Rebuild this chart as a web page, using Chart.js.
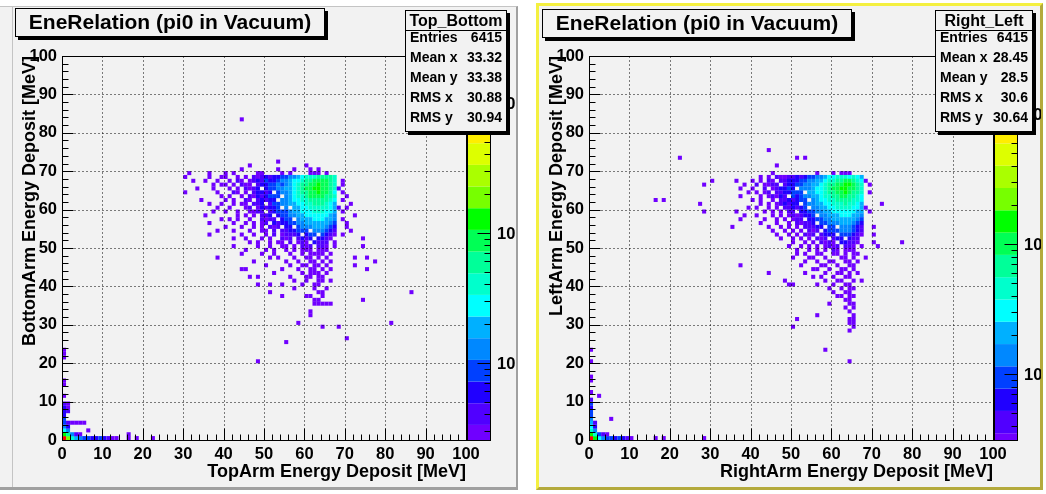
<!DOCTYPE html>
<html><head><meta charset="utf-8">
<script src="https://cdn.jsdelivr.net/npm/chart.js@4.4.1/dist/chart.umd.min.js"></script>
<style>
html,body{margin:0;padding:0;background:#fff;}
body{width:1046px;height:494px;position:relative;overflow:hidden;font-family:"Liberation Sans",Arial,sans-serif;}
.pad{position:absolute;background:#f2f2f2;box-sizing:border-box;}
#padL{left:0;top:6px;width:518px;height:484px;border-top:1px solid #c4c4c4;border-right:2px solid #a0a0a0;border-bottom:3px solid #a0a0a0;}
#padLline{position:absolute;left:12px;top:6px;width:1px;height:481px;background:#c4c4c4;}
#padR{left:536px;top:3px;width:507px;height:487px;border-left:3px solid #f4f040;border-top:3px solid #f4f040;border-right:3px solid #b4aa3c;border-bottom:3px solid #b4aa3c;}
canvas{position:absolute;top:0;}
#cL{left:0;}
#cR{left:527px;}
.box{position:absolute;background:#f2f2f2;border:1px solid #000;box-shadow:3px 3px 0 #000;box-sizing:border-box;font-weight:bold;color:#000;}
.title{font-size:21px;line-height:26px;text-align:center;white-space:nowrap;}
.hdr{position:absolute;left:0;right:0;top:0;height:19px;line-height:19px;border-bottom:1px solid #000;text-align:center;font-size:16px;white-space:nowrap;}
.row{position:absolute;left:4px;right:4px;height:16px;line-height:16px;font-size:14px;white-space:nowrap;}
.row span:last-child{position:absolute;right:0;top:0;}
</style>
</head><body>
<div id="padL" class="pad"></div><div id="padLline"></div>
<div id="padR" class="pad"></div>
<canvas id="cL" width="517" height="494"></canvas>
<canvas id="cR" width="514" height="494"></canvas>
<div class="box title" style="left:15px;top:8px;width:310px;height:29px;">EneRelation (pi0 in Vacuum)</div>
<div class="box title" style="left:542px;top:9px;width:310px;height:29px;">EneRelation (pi0 in Vacuum)</div>
<div class="box" id="statL" style="left:405px;top:10px;width:102px;height:122px;"></div>
<div class="box" id="statR" style="left:935px;top:10px;width:98px;height:122px;"></div>
<script>
// ---- colour levels (palette index 1..18, bottom to top of the colour bar)
const palette = ["#7000ff","#5000ff","#2000ff","#0040ff","#0088ff","#00b0ff","#00ffff","#00ffcc","#00ff99","#00ff55","#00ff00","#77ff00","#aaff00","#ddff00","#ffee00","#ffaa00","#ff5500","#ff0000"];
const axisTicks = [0,10,20,30,40,50,60,70,80,90,100];

// ---- Top_Bottom histogram: dense rows (y, levels from x=40; '.'=empty, 1..9,a,b = colour level)
const topBottomRowsX0 = 40;
const topBottomRows = [
 [68, "1..1. 1.212 32334 45567 88899 998"],
 [67, ".1.21 .1232 43345 56778 99aaa a98.1"],
 [66, "1.1.2 11.23 34454 56789 9aaba a98"],
 [65, ".1.1. 2123. 34455 66789 aabba a982"],
 [64, "..21. 1.233 23.45 56789 9aaba a97.1"],
 [63, ".1..1 .2132 3444. 56788 9aaaa 998"],
 [62, "1.1.. 21.23 233.5 56778 89999 987.1"],
 [61, "..1.1 1.223 .2445 56677 88999 876"],
 [60, ".1... 12.13 2334. 5.667 78888 8762. 1"],
 [59, "1..1. .1122 .2344 45667 77888 776.1"],
 [58, "...1. 1.1.2 23.34 45566 77777 765"],
 [57, ".1.1. .1..2 122.3 44.56 66777 665.1"],
 [56, "..1.. 1.1.1 2.323 34455 66666 654"],
 [55, "1...1 ..1.1 .212. 33.45 55666 543.. 1"],
 [54, "..1.. .1..1 1.2.2 23344 4.555 432"],
 [53, "....1 ..1.. 1.2.1 2223. 344.4 321.1"],
 [52, "..1.. 1...1 .1..2 12.23 23.33 21"],
 [51, "..... .1.1. .1.11 .2.12 1.322 2.1"],
 [50, "..1.. ...1. .1..1 1.1.2 12.22 1.1"],
 [49, "..... 1.... 1.1.. 1.1.1 11.11 1"],
 [48, "....1 ....1 ..1.. .1..1 .1111 .1"]
];
// single-entry bins (y, [x...])
const topBottomSparse = [
 [83,[44]],[72,[53]],[71,[46,60]],[70,[44,53,57,61,63]],
 [69,[31,36,40,42,48,49,54,56,61,62,63,65]],[68,[30,36,39]],[67,[32,35,38]],
 [66,[37,39,69]],[65,[33,37]],[64,[30,38]],[63,[39,70]],[62,[34]],[61,[36,39,71]],
 [60,[38]],[59,[37]],[58,[35,72]],[57,[39]],[56,[36,70]],[54,[38,71]],[53,[36]],[52,[74]],
 [50,[74]],[47,[38,51,53,57,60,61,63,65,72,75]],
 [46,[47,55,58,61,62,64,66,77]],[45,[50,56,59,60,62,63,65,72]],[44,[44,45,54,58,61,62,64,66,75]],
 [43,[52,59,61,62,63,65]],[42,[46,48,56,60,61,63,64]],[41,[57,60,63,64,66]],
 [40,[48,51,54,59,62,63]],[39,[57,62,65]],[38,[51,63,64,86]],[37,[54,60,61,64]],
 [36,[62,63,74]],[35,[62,63,64,65,66]],[33,[61]],[32,[61]],[30,[58,81]],[29,[64,68]],
 [26,[70]],[25,[55]],[20,[48]]
];
// bins near the origin [x, y, level]
const topBottomOrigin = [
 [0,0,18],[1,0,12],[2,0,8],[3,0,6],[4,0,5],[5,0,4],[6,0,4],[7,0,3],[8,0,3],[9,0,4],[10,0,3],[11,0,2],[12,0,1],[13,0,1],[16,0,1],[18,0,1],[22,0,1],
 [0,1,11],[1,1,9],[2,1,5],[3,1,2],[4,1,1],[16,1,1],
 [0,2,7],[1,2,5],[6,2,1],[0,3,5],[1,3,3],
 [0,4,4],[1,4,2],[2,4,1],[3,4,1],[4,4,1],[5,4,1],
 [0,5,4],[0,6,3],[0,7,3],[1,7,2],[0,8,3],[1,8,1],[0,9,2],[1,9,1],
 [0,11,1],[0,14,1],[0,15,1],[0,21,1],[0,22,1],[0,23,1]
];
const topBottomStats = [["Entries","6415"],["Mean x","33.32"],["Mean y","33.38"],["RMS x","30.88"],["RMS y","30.94"]];

// ---- Right_Left histogram
const rightLeftRowsX0 = 40;
const rightLeftRows = [
 [68, "..1.1 .2112 23234 45567 78887 876"],
 [67, "1.1.2 1.223 33445 56678 899aa 9871"],
 [66, ".2.11 22.23 34455 66789 9aabb a98.1"],
 [65, "1..2. 12334 3.555 67789 aabba a98"],
 [64, ".1.12 .2233 444.6 67789 9aaba 998.1"],
 [63, "..1.1 2132. 43455 66788 99aa9 987"],
 [62, "1.1.. 1.223 2344. 56778 89999 887"],
 [61, "..1.1 .1232 33.45 56677 88898 876.. ..1"],
 [60, ".1..1 .1.22 3234. 55667 78888 7761"],
 [59, "...1. 1.1.2 2.334 45566 77777 766.1"],
 [58, ".1... 1.1.1 21233 4.556 66777 665"],
 [57, "...1. .1.1. 122.3 34455 66666 654"],
 [56, "..1.. .1..1 .2122 3.445 55666 543"],
 [55, "....1 ..1.1 .1.22 233.4 4.555 432.. 1"],
 [54, "..... 1..1. 1.1.2 12.34 44555 432"],
 [53, "..... .1..1 .1.21 2.233 3.444 321.. 1"],
 [52, "..... ..1.. 1.1.1 .212. 233.3 22"],
 [51, "..... ..... 1..1. 1.212 1.332 21... 1"],
 [50, "..... ....1 ..1.1 .1.12 12.22 1.1"],
 [49, "..... ..... .1..1 .1.1. 21.11 1"]
];
const rightLeftSparse = [
 [75,[44]],[73,[22,51,53]],[71,[46]],[69,[45,56,60,62,63,64]],[67,[30,36]],
 [66,[28,38]],[65,[37]],[64,[39]],[63,[37]],[62,[16,18]],[61,[27]],[60,[39]],
 [59,[28,36]],[58,[38]],[57,[37]],[55,[35]],[51,[77]],[50,[71]],
 [48,[51,53,56,57,60,61,63,65,66]],[47,[50,54,55,58,62,63,65,68]],
 [46,[53,56,59,60,63,64,66]],[45,[37,52,57,58,61,64,65]],[44,[55,56,59,62,63,65]],
 [43,[44,53,58,61,62,64,66]],[42,[55,57,60,63,64]],[41,[48,58,61,62,65,67]],
 [40,[49,50,56,60,63,64]],[39,[59,62,64,65]],[38,[60,63,64]],[37,[61,62,64,65]],
 [36,[63,64]],[35,[59,64,65]],[34,[63,65]],[33,[64]],[32,[56,65]],[31,[51,64,65]],
 [30,[64,65]],[29,[50,65]],[28,[64]],[23,[58]],[20,[64]]
];
const rightLeftOrigin = [
 [0,0,18],[1,0,11],[2,0,7],[3,0,5],[4,0,4],[5,0,4],[6,0,3],[7,0,4],[8,0,3],[9,0,2],[10,0,1],[16,0,1],[18,0,1],[28,0,1],
 [0,1,11],[1,1,8],[2,1,4],[3,1,2],[4,1,1],
 [0,2,8],[1,2,5],[0,3,7],[1,3,3],[0,4,6],[1,4,2],[0,5,5],[5,5,1],
 [0,6,4],[0,7,4],[0,8,3],[0,9,4],[0,10,2],[2,11,1],[0,12,1],[0,15,1],[0,16,1],[0,20,1],[0,23,1]
];
const rightLeftStats = [["Entries","6415"],["Mean x","28.45"],["Mean y","28.5"],["RMS x","30.6"],["RMS y","30.64"]];

// ---- build bins (origin and single entries first, dense rows drawn on top)
function buildCells(rows, x0, sparse, origin) {
  const out = [];
  origin.forEach(([x, y, l]) => out.push({x: x + 0.5, y: y + 0.5, l}));
  sparse.forEach(([y, xs]) => xs.forEach(x => out.push({x: x + 0.5, y: y + 0.5, l: 1})));
  rows.forEach(([y, str]) => {
    const s = str.replace(/ /g, '');
    for (let i = 0; i < s.length; i++) {
      if (s[i] !== '.') out.push({x: x0 + i + 0.5, y: y + 0.5, l: parseInt(s[i], 36)});
    }
  });
  return out;
}

function fillStats(id, title, stats) {
  const el = document.getElementById(id);
  let html = '<div class="hdr">' + title + '</div>';
  stats.forEach(([k, v], i) => {
    html += '<div class="row" style="top:' + (17.5 + i * 20) + 'px"><span>' + k + '</span><span>' + v + '</span></div>';
  });
  el.innerHTML = html;
}
fillStats('statL', 'Top_Bottom', topBottomStats);
fillStats('statR', 'Right_Left', rightLeftStats);

const FONT = '"Liberation Sans", Arial, sans-serif';

function decoPlugin(cb) {
  return {
    id: 'rootDeco',
    afterDatasetsDraw(chart) {
      const {ctx, chartArea: a, scales: {x, y}} = chart;
      ctx.save();
      ctx.strokeStyle = '#000'; ctx.lineWidth = 1;
      const L = Math.round(a.left) + 0.5, R = Math.round(a.right) + 0.5;
      const T = Math.round(a.top) + 0.5, B = Math.round(a.bottom) + 0.5;
      // dotted grid
      ctx.setLineDash([1, 3]);
      axisTicks.forEach(v => {
        if (v === 0 || v === 100) return;
        const px = Math.round(x.getPixelForValue(v)) + 0.5;
        ctx.beginPath(); ctx.moveTo(px, T); ctx.lineTo(px, B); ctx.stroke();
        const py = Math.round(y.getPixelForValue(v)) + 0.5;
        ctx.beginPath(); ctx.moveTo(L, py); ctx.lineTo(R, py); ctx.stroke();
      });
      ctx.setLineDash([]);
      ctx.strokeRect(L, T, R - L, B - T);
      // inward ticks
      for (let v = 0; v <= 100; v += 2) {
        const major = v % 10 === 0;
        const px = Math.round(x.getPixelForValue(v)) + 0.5;
        ctx.beginPath(); ctx.moveTo(px, B); ctx.lineTo(px, B - (major ? 12 : 6)); ctx.stroke();
        const py = Math.round(y.getPixelForValue(v)) + 0.5;
        ctx.beginPath(); ctx.moveTo(L, py); ctx.lineTo(L + (major ? 11 : 6), py); ctx.stroke();
      }
      // colour bar
      const x0 = Math.round(a.right) + 1, x1 = Math.round(a.right) + 25;
      const zpix = lg => a.bottom - (lg - cb.logMin) / (cb.logMax - cb.logMin) * (a.bottom - a.top);
      for (let k = 0; k < 40; k++) {
        const lo = cb.edge0 + (k - 1) * cb.step, hi = cb.edge0 + k * cb.step;
        if (lo >= cb.logMax) break;
        const yT = Math.max(a.top, zpix(hi)), yB = Math.min(a.bottom, zpix(lo));
        ctx.fillStyle = palette[Math.min(k, palette.length - 1)];
        ctx.fillRect(x0, yT, x1 - x0, yB - yT);
      }
      ctx.strokeRect(x0 + 0.5, T, x1 - x0 - 1, B - T);
      ctx.fillStyle = '#000';
      ctx.font = 'bold 16.5px ' + FONT;
      ctx.textBaseline = 'middle'; ctx.textAlign = 'left';
      for (let d = 0; d <= 4; d++) {
        for (let m = 1; m <= 9; m++) {
          const lg = d + Math.log10(m);
          if (lg < cb.logMin || lg > cb.logMax) continue;
          const py = Math.round(zpix(lg)) + 0.5;
          ctx.beginPath(); ctx.moveTo(x1 - 0.5, py); ctx.lineTo(x1 - 0.5 - (m === 1 ? 13 : 6), py); ctx.stroke();
          if (m === 1) ctx.fillText('10', x1 + 6, py + 1);
        }
      }
      ctx.restore();
    }
  };
}

function makeChart(id, cells, xTitle, yTitle, cb, width) {
  const tickFont = {family: FONT, weight: 'bold', size: 16.5};
  const titleFont = {family: FONT, weight: 'bold', size: 18};
  return new Chart(document.getElementById(id), {
    type: 'scatter',
    data: {datasets: [{
      data: cells,
      pointStyle: 'rect',
      borderWidth: 0,
      backgroundColor: c => palette[(c.raw ? c.raw.l : 1) - 1],
      radius: c => {
        const s = c.chart.scales.x;
        return Math.abs(s.getPixelForValue(1) - s.getPixelForValue(0)) * Math.SQRT1_2;
      },
      hoverRadius: 0
    }]},
    options: {
      responsive: false, animation: false, events: [],
      layout: {padding: {left: 0, top: 56, right: width - 466, bottom: 0}},
      plugins: {legend: {display: false}, tooltip: {enabled: false}},
      scales: {
        x: {
          type: 'linear', min: 0, max: 100,
          afterFit: s => { s.height = 54; },
          afterBuildTicks: s => { s.ticks = axisTicks.map(v => ({value: v})); },
          grid: {display: false, drawTicks: false}, border: {display: false},
          ticks: {font: tickFont, color: '#000', padding: 5, maxRotation: 0, autoSkip: false},
          title: {display: true, text: xTitle, align: 'end', color: '#000', font: titleFont, padding: {top: 0, bottom: 11}}
        },
        y: {
          type: 'linear', min: 0, max: 100,
          afterFit: s => { s.width = 62; },
          afterBuildTicks: s => { s.ticks = axisTicks.map(v => ({value: v})); },
          grid: {display: false, drawTicks: false}, border: {display: false},
          ticks: {font: tickFont, color: '#000', padding: 5, autoSkip: false},
          title: {display: true, text: yTitle, align: 'end', color: '#000', font: titleFont, padding: {top: 19, bottom: 0}}
        }
      }
    },
    plugins: [decoPlugin(cb)]
  });
}

makeChart('cL', buildCells(topBottomRows, topBottomRowsX0, topBottomSparse, topBottomOrigin),
  'TopArm Energy Deposit [MeV]', 'BottomArm Energy Deposit [MeV]',
  {logMin: 0.405, logMax: 3.359, edge0: 0.521, step: 0.1667}, 517);
makeChart('cR', buildCells(rightLeftRows, rightLeftRowsX0, rightLeftSparse, rightLeftOrigin),
  'RightArm Energy Deposit [MeV]', 'LeftArm Energy Deposit [MeV]',
  {logMin: 0.492, logMax: 3.446, edge0: 0.544, step: 0.1715}, 514);
</script>
</body></html>
